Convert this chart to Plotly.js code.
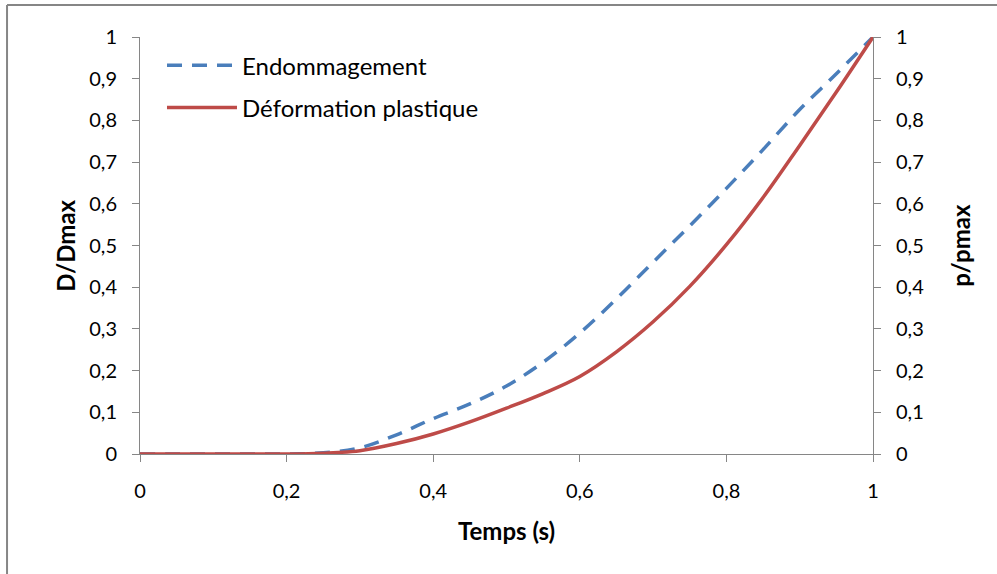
<!DOCTYPE html>
<html>
<head>
<meta charset="utf-8">
<script src="https://cdn.plot.ly/plotly-3.0.1.min.js"></script>
<style>html,body{margin:0;padding:0;background:#fff;}#chart{width:997px;height:574px;}</style>
</head>
<body>
<div id="chart"></div>
<script>
var temps = [0, 0.05, 0.1, 0.15, 0.2, 0.25, 0.3, 0.35, 0.4, 0.45, 0.5, 0.55, 0.6, 0.65, 0.7, 0.75, 0.8, 0.85, 0.9, 0.95, 1];
var endommagement = [0, 0, 0, 0, 0, 0.003, 0.015, 0.046, 0.085, 0.12, 0.163, 0.22, 0.29, 0.372, 0.46, 0.547, 0.637, 0.73, 0.826, 0.912, 1];
var deformation = [0, 0, 0, 0, 0, 0.002, 0.008, 0.025, 0.048, 0.077, 0.11, 0.145, 0.186, 0.245, 0.317, 0.402, 0.502, 0.615, 0.74, 0.868, 1];
var seriesNames = ["Endommagement", "Déformation plastique"];
var xTitle = "Temps (s)";
var yTitle = "D/Dmax";
var y2Title = "p/pmax";

var font = "Lato, 'Open Sans', sans-serif";
var axisCommon = {
  showgrid: false, zeroline: false, showline: true, linecolor: '#868686', linewidth: 1,
  ticks: 'outside', ticklen: 7, tickcolor: '#868686', tickwidth: 1,
  tickfont: {family: font, size: 20, color: '#000'}, fixedrange: true
};

var traces = [
  {x: temps, y: endommagement, name: seriesNames[0], type: 'scatter', mode: 'lines', legendgroup: 'a',
   line: {color: '#4a7ebb', width: 3.5, dash: '15px,10px', shape: 'spline'}, yaxis: 'y'},
  {x: temps, y: deformation, name: seriesNames[1], type: 'scatter', mode: 'lines', legendgroup: 'b',
   line: {color: '#be4b48', width: 3.5, shape: 'spline'}, yaxis: 'y2'}
];

var layout = {
  width: 997, height: 574,
  margin: {l: 140, r: 124, t: 37, b: 120},
  paper_bgcolor: '#fff', plot_bgcolor: '#fff',
  separators: ', ',
  showlegend: true,
  legend: {x: 0.03, y: 0.985, xanchor: 'left', yanchor: 'top', bgcolor: 'rgba(0,0,0,0)',
           font: {family: font, size: 24, color: '#000'}, itemwidth: 70, tracegroupgap: 8},
  xaxis: Object.assign({}, axisCommon, {range: [0, 1], dtick: 0.2, tick0: 0, ticklabelstandoff: 12}),
  yaxis: Object.assign({}, axisCommon, {range: [0, 1], dtick: 0.1, tick0: 0, ticklabelstandoff: 11}),
  yaxis2: Object.assign({}, axisCommon, {range: [0, 1], dtick: 0.1, tick0: 0, overlaying: 'y', side: 'right', anchor: 'x', ticklabelstandoff: 11}),
  annotations: [
    {text: '<b>' + xTitle + '</b>', xref: 'paper', yref: 'paper', x: 0.5, y: -0.183, showarrow: false,
     font: {family: font, size: 24, color: '#000'}, xanchor: 'center', yanchor: 'middle'},
    {text: '<b>' + yTitle + '</b>', xref: 'paper', yref: 'paper', x: -0.102, y: 0.5, showarrow: false, textangle: -90,
     font: {family: font, size: 24, color: '#000'}, xanchor: 'center', yanchor: 'middle'},
    {text: '<b>' + y2Title + '</b>', xref: 'paper', yref: 'paper', x: 1.119, y: 0.5, showarrow: false, textangle: -90,
     font: {family: font, size: 24, color: '#000'}, xanchor: 'center', yanchor: 'middle'}
  ],
  shapes: [
    {type: 'line', xref: 'paper', yref: 'paper', x0: -0.1814, x1: 1.2, y0: 1.0767, y1: 1.0767, line: {color: '#868686', width: 2}},
    {type: 'line', xref: 'paper', yref: 'paper', x0: -0.1814, x1: -0.1814, y0: 1.0767, y1: -0.32, line: {color: '#868686', width: 2}}
  ]
};

Plotly.newPlot('chart', traces, layout, {displayModeBar: false, staticPlot: true});
</script>
</body>
</html>
